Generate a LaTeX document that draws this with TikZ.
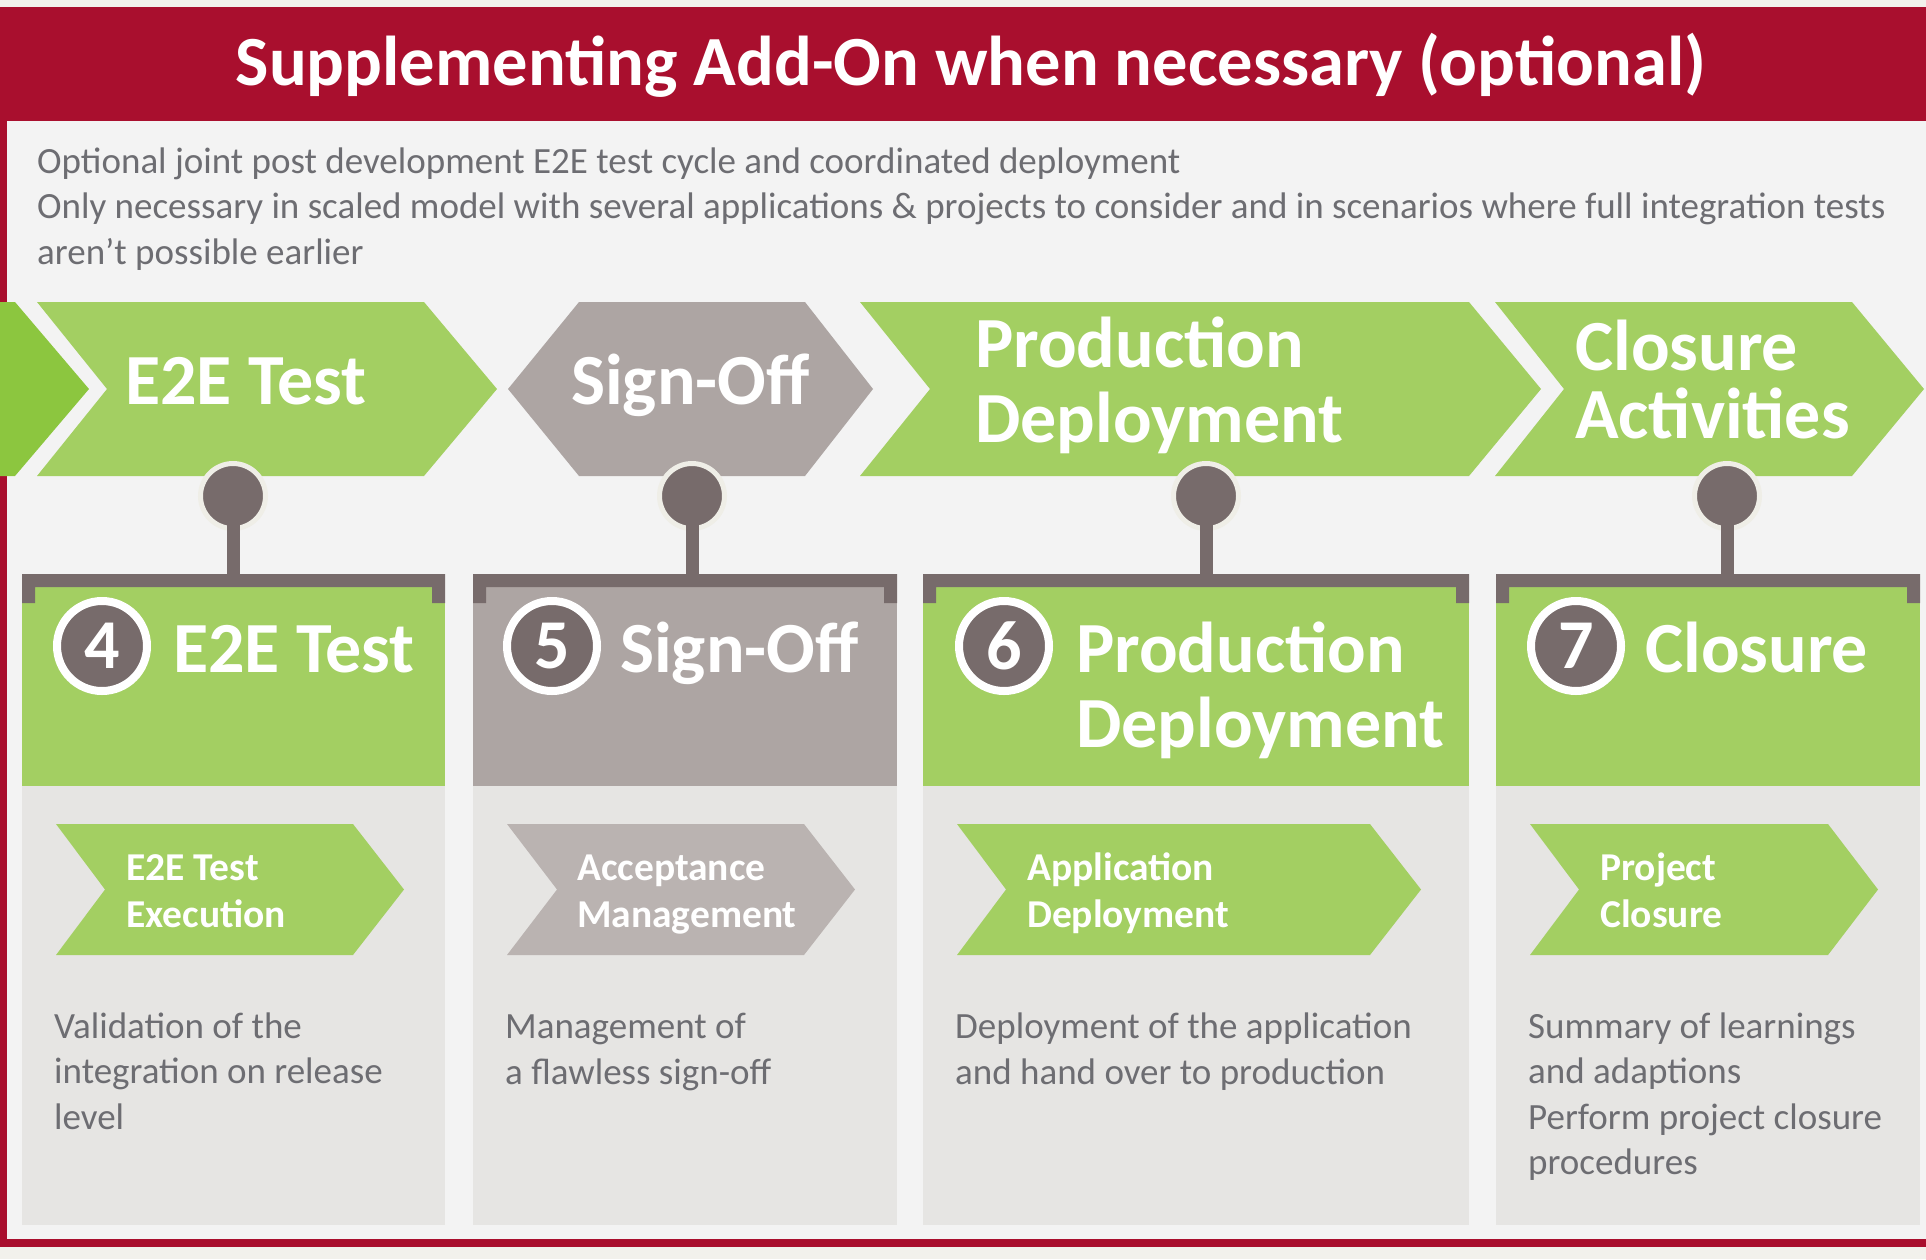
\documentclass[tikz,border=0pt]{standalone}
\usepackage{fontspec}
\setmainfont{Carlito}
\usetikzlibrary{positioning}

\definecolor{addonred}{HTML}{A90F2E}
\definecolor{pagebg}{HTML}{F2F1EC}
\definecolor{panelbg}{HTML}{F3F3F3}
\definecolor{phasegreen}{HTML}{A3CF62}
\definecolor{leadgreen}{HTML}{8CC63F}
\definecolor{phasegray}{HTML}{ADA5A3}
\definecolor{stepgray}{HTML}{BAB3B1}
\definecolor{pingray}{HTML}{776B6B}
\definecolor{bodygray}{HTML}{E6E5E3}
\definecolor{textgray}{HTML}{6D6D72}
\definecolor{halo}{HTML}{EFEEE7}

\begin{document}
\begin{tikzpicture}[x=1pt,y=-1pt,
    bandtitle/.style={anchor=base,inner sep=0pt,text=white,font=\bfseries\fontsize{70.5}{80}\selectfont},
    notetext/.style={anchor=base west,inner sep=0pt,align=left,text=textgray,font=\fontsize{37}{45.5}\selectfont},
    phaselabel/.style={anchor=base west,inner sep=0pt,align=left,text=white,font=\bfseries\fontsize{72}{75}\selectfont},
    steplabel/.style={anchor=base west,inner sep=0pt,align=left,text=white,font=\bfseries\fontsize{39.5}{47}\selectfont},
    pinhead/.style={circle,fill=pingray,draw=halo,line width=5pt,minimum size=65pt,inner sep=0pt},
    pinstem/.style={pingray,line width=13pt},
    stepnum/.style={circle,fill=pingray,draw=white,line width=8pt,minimum size=90pt,inner sep=0pt,
      text=white,font=\bfseries\fontsize{70}{70}\selectfont}]

  % Page, frame and panel
  \fill[pagebg] (0,0) rectangle (1926,1259);
  \fill[addonred] (0,7) rectangle (1926,1247);
  \fill[panelbg] (7,121) rectangle (1926,1239);
  \useasboundingbox (0,0) rectangle (1926,1259);

  % Title
  \node[bandtitle] (title) at (971,85) {Supplementing Add-On when necessary (optional)};

  % Intro (anchored at the baseline of its last line)
  \node[notetext] (intro) at (37,264) {Optional joint post development E2E test cycle and coordinated deployment\\
    Only necessary in scaled model with several applications \& projects to consider and in scenarios where full integration tests\\
    aren’t possible earlier};

  % Phase arrows
  \fill[leadgreen] (0,302) -- (15,302) -- (89,389) -- (15,476) -- (0,476) -- cycle;
  \fill[phasegreen] (37,302) -- (424,302) -- (497,389) -- (424,476) -- (37,476) -- (107,389) -- cycle;
  \fill[phasegray] (508,389) -- (579,302) -- (805,302) -- (873,389) -- (805,476) -- (579,476) -- cycle;
  \fill[phasegreen] (860,302) -- (1469,302) -- (1541,389) -- (1469,476) -- (860,476) -- (930,389) -- cycle;
  \fill[phasegreen] (1495,302) -- (1852,302) -- (1924,389) -- (1852,476) -- (1495,476) -- (1564,389) -- cycle;

  \node[phaselabel] (phaseA) at (125,404) {E2E Test};
  \node[phaselabel] (phaseB) at (571,404) {Sign-Off};
  \node[phaselabel] (phaseC) at (975,442) {Production\\Deployment};
  \node[phaselabel] (phaseD) at (1575,438) {Closure\\[-7pt]Activities};

  % Columns: header and body
  \fill[phasegreen] (22,587) rectangle (445,786);
  \fill[bodygray] (22,786) rectangle (445,1225);
  \fill[phasegray] (473,587) rectangle (897,786);
  \fill[bodygray] (473,786) rectangle (897,1225);
  \fill[phasegreen] (923,587) rectangle (1469,786);
  \fill[bodygray] (923,786) rectangle (1469,1225);
  \fill[phasegreen] (1496,587) rectangle (1920,786);
  \fill[bodygray] (1496,786) rectangle (1920,1225);

  % Brackets
  \fill[pingray] (22,574) -- (445,574) -- (445,603) -- (432,603) -- (432,587) -- (35,587) -- (35,603) -- (22,603) -- cycle;
  \fill[pingray] (473,574) -- (897,574) -- (897,603) -- (884,603) -- (884,587) -- (486,587) -- (486,603) -- (473,603) -- cycle;
  \fill[pingray] (923,574) -- (1469,574) -- (1469,603) -- (1456,603) -- (1456,587) -- (936,587) -- (936,603) -- (923,603) -- cycle;
  \fill[pingray] (1496,574) -- (1920,574) -- (1920,603) -- (1907,603) -- (1907,587) -- (1509,587) -- (1509,603) -- (1496,603) -- cycle;

  % Pins from the phase arrows down to the brackets
  \node[pinhead] (pinA) at (233,496) {};
  \node[pinhead] (pinB) at (692,496) {};
  \node[pinhead] (pinC) at (1206,496) {};
  \node[pinhead] (pinD) at (1727,496) {};
  \coordinate (barA) at (233,580);
  \coordinate (barB) at (692,580);
  \coordinate (barC) at (1206,580);
  \coordinate (barD) at (1727,580);
  \draw[pinstem] (pinA.center) -- (barA);
  \draw[pinstem] (pinB.center) -- (barB);
  \draw[pinstem] (pinC.center) -- (barC);
  \draw[pinstem] (pinD.center) -- (barD);

  % Numbered headers
  \node[stepnum] (numA) at (102,646) {4};
  \node[stepnum] (numB) at (552,646) {5};
  \node[stepnum] (numC) at (1004,646) {6};
  \node[stepnum] (numD) at (1576,646) {7};
  \node[phaselabel] (headA) at (173,672) {E2E Test};
  \node[phaselabel] (headB) at (620,672) {Sign-Off};
  \node[phaselabel] (headC) at (1076,747) {Production\\Deployment};
  \node[phaselabel] (headD) at (1645,672) {Closure};

  % Step arrows
  \fill[phasegreen] (56,824) -- (353,824) -- (404,889.5) -- (353,955) -- (56,955) -- (105,889.5) -- cycle;
  \fill[stepgray] (507,824) -- (804,824) -- (855,889.5) -- (804,955) -- (507,955) -- (557,889.5) -- cycle;
  \fill[phasegreen] (957,824) -- (1370,824) -- (1421,889.5) -- (1370,955) -- (957,955) -- (1006,889.5) -- cycle;
  \fill[phasegreen] (1530,824) -- (1828,824) -- (1878,889.5) -- (1828,955) -- (1530,955) -- (1579,889.5) -- cycle;

  \node[steplabel] (stepA) at (126,927) {E2E Test\\Execution};
  \node[steplabel] (stepB) at (577,927) {Acceptance\\Management};
  \node[steplabel] (stepC) at (1027,927) {Application\\Deployment};
  \node[steplabel] (stepD) at (1600,927) {Project\\Closure};

  % Descriptions
  \node[notetext] (textA) at (54,1129) {Validation of the\\integration on release\\level};
  \node[notetext] (textB) at (505,1084) {Management of\\a flawless sign-off};
  \node[notetext] (textC) at (955,1084) {Deployment of the application\\and hand over to production};
  \node[notetext] (textD) at (1528,1174.5) {Summary of learnings\\and adaptions\\Perform project closure\\procedures};
\end{tikzpicture}
\end{document}
